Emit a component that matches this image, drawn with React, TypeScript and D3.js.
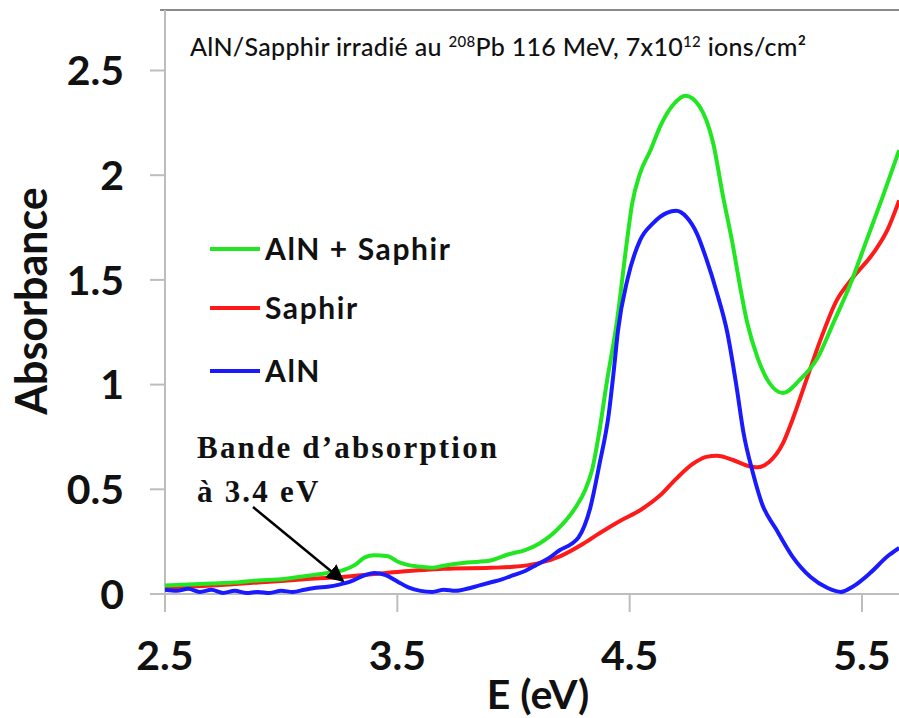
import React from "react";
import * as d3 from "d3";

// ---- data ----
const energyGreen = [2.5, 2.6, 2.7, 2.8, 2.9, 3.0, 3.1, 3.2, 3.27, 3.32, 3.36, 3.4, 3.46, 3.5, 3.54, 3.6, 3.65, 3.7, 3.8, 3.9, 3.98, 4.05, 4.11, 4.2, 4.265, 4.31, 4.34, 4.37, 4.4, 4.445, 4.49, 4.51, 4.545, 4.59, 4.63, 4.69, 4.74, 4.8, 4.86, 4.9, 4.945, 4.975, 5.005, 5.05, 5.1, 5.16, 5.23, 5.31, 5.375, 5.45, 5.52, 5.59, 5.66];
const absGreen = [0.04, 0.045, 0.05, 0.055, 0.065, 0.07, 0.085, 0.1, 0.115, 0.14, 0.175, 0.185, 0.18, 0.155, 0.14, 0.13, 0.125, 0.135, 0.15, 0.16, 0.19, 0.21, 0.24, 0.32, 0.41, 0.5, 0.6, 0.78, 1.0, 1.3, 1.7, 1.86, 2.01, 2.12, 2.23, 2.34, 2.38, 2.33, 2.15, 1.91, 1.66, 1.47, 1.3, 1.13, 1.01, 0.96, 1.02, 1.13, 1.29, 1.48, 1.69, 1.9, 2.12];

const energyRed = [2.5, 2.7, 2.9, 3.1, 3.3, 3.5, 3.7, 3.9, 4.0, 4.1, 4.2, 4.3, 4.37, 4.46, 4.545, 4.63, 4.7, 4.77, 4.83, 4.875, 4.945, 5.0, 5.05, 5.1, 5.16, 5.2, 5.26, 5.32, 5.39, 5.46, 5.55, 5.61, 5.66];
const absRed = [0.03, 0.04, 0.055, 0.07, 0.085, 0.105, 0.12, 0.125, 0.13, 0.145, 0.18, 0.24, 0.29, 0.35, 0.4, 0.47, 0.55, 0.62, 0.655, 0.66, 0.64, 0.615, 0.605, 0.63, 0.72, 0.83, 1.02, 1.21, 1.4, 1.51, 1.63, 1.74, 1.88];

const energyBlue = [2.5, 2.55, 2.6, 2.65, 2.7, 2.75, 2.8, 2.85, 2.9, 2.95, 3.0, 3.05, 3.1, 3.15, 3.2, 3.25, 3.3, 3.35, 3.4, 3.45, 3.5, 3.55, 3.6, 3.65, 3.7, 3.75, 3.8, 3.85, 3.9, 3.95, 4.0, 4.05, 4.1, 4.15, 4.2, 4.25, 4.28, 4.33, 4.37, 4.41, 4.43, 4.45, 4.49, 4.545, 4.6, 4.66, 4.7, 4.745, 4.79, 4.83, 4.875, 4.92, 4.96, 4.99, 5.03, 5.07, 5.13, 5.2, 5.28, 5.35, 5.41, 5.46, 5.535, 5.61, 5.66];
const absBlue = [0.02, 0.015, 0.025, 0.01, 0.02, 0.005, 0.015, 0.005, 0.01, 0.005, 0.015, 0.01, 0.02, 0.03, 0.035, 0.045, 0.06, 0.085, 0.1, 0.09, 0.06, 0.03, 0.015, 0.01, 0.02, 0.015, 0.025, 0.04, 0.055, 0.07, 0.09, 0.11, 0.14, 0.17, 0.21, 0.24, 0.27, 0.41, 0.62, 0.86, 1.05, 1.26, 1.5, 1.69, 1.77, 1.82, 1.83, 1.8, 1.72, 1.6, 1.44, 1.25, 0.99, 0.77, 0.58, 0.43, 0.31, 0.18, 0.08, 0.03, 0.01, 0.035, 0.1, 0.18, 0.22];

const seriesNames = ["AlN + Saphir", "Saphir", "AlN"];
const seriesColors = ["#22e622", "#ff1a1a", "#1a1aff"];
const xTicks = [2.5, 3.5, 4.5, 5.5];
const yTicks = [0, 0.5, 1, 1.5, 2, 2.5];
const yTickLabels = ["0", "0.5", "1", "1.5", "2", "2.5"];
const xTickLabels = ["2.5", "3.5", "4.5", "5.5"];

export default function App() {
  const x = d3.scaleLinear().domain([2.5, 5.5]).range([165, 862]);
  const y = d3.scaleLinear().domain([0, 2.5]).range([594, 70.5]);
  const line = d3
    .line<[number, number]>()
    .x((d) => x(d[0]))
    .y((d) => y(d[1]))
    .curve(d3.curveMonotoneX);

  const series = [
    { e: energyGreen, a: absGreen },
    { e: energyRed, a: absRed },
    { e: energyBlue, a: absBlue },
  ];
  const drawOrder = [1, 0, 2];
  const sans = "Lato, 'Open Sans', sans-serif";
  const serif = "'Liberation Serif', 'Times New Roman', serif";
  const axisColor = "#bdbdbd";

  return (
    <svg
      width={899}
      height={718}
      style={{ position: "absolute", left: 0, top: 0, background: "#fff" }}
      fontFamily={sans}
    >
      <defs>
        <clipPath id="plotClip">
          <rect x={165} y={10} width={740} height={600} />
        </clipPath>
        <marker id="arrowHead" viewBox="0 0 10 10" refX={9} refY={5} markerWidth={7} markerHeight={7} orient="auto" markerUnits="strokeWidth">
          <path d="M0,0 L10,5 L0,10 z" fill="#000" />
        </marker>
      </defs>

      {/* frame */}
      <line x1={160} x2={899} y1={10} y2={10} stroke="#8a8a8a" strokeWidth={2} />
      <line x1={165} x2={165} y1={10} y2={612} stroke={axisColor} strokeWidth={2} />
      <line x1={150} x2={899} y1={y(0)} y2={y(0)} stroke={axisColor} strokeWidth={2} />

      {/* y ticks */}
      {yTicks.map((t, i) => (
        <g key={"yt" + i}>
          <line x1={150} x2={165} y1={y(t)} y2={y(t)} stroke={axisColor} strokeWidth={2} />
          <text x={124} y={y(t)} dy="0.36em" textAnchor="end" fontSize={41} fontWeight={700} fill="#111">
            {yTickLabels[i]}
          </text>
        </g>
      ))}
      {/* x ticks */}
      {xTicks.map((t, i) => (
        <g key={"xt" + i}>
          <line x1={x(t)} x2={x(t)} y1={y(0)} y2={612} stroke={axisColor} strokeWidth={2} />
          <text x={x(t)} y={670} textAnchor="middle" fontSize={41} fontWeight={700} fill="#111">
            {xTickLabels[i]}
          </text>
        </g>
      ))}

      {/* axis titles */}
      <text x={538} y={709} textAnchor="middle" fontSize={41} fontWeight={700} fill="#111">
        E (eV)
      </text>
      <text transform="translate(47,301) rotate(-90)" textAnchor="middle" fontSize={43} fontWeight={700} fill="#111">
        Absorbance
      </text>

      {/* title */}
      <text x={190} y={56} fontSize={25} fontWeight={500} letterSpacing={0.3} fill="#111">
        AlN/Sapphir irradié au <tspan fontSize={15} dy={-9}>208</tspan>
        <tspan dy={9}>Pb 116 MeV, 7x10</tspan>
        <tspan fontSize={15} dy={-9}>12</tspan>
        <tspan dy={9}> ions/cm²</tspan>
      </text>

      {/* curves */}
      <g clipPath="url(#plotClip)">
        {drawOrder.map((k) => {
          const s = series[k];
          const pts: [number, number][] = s.e.map((e, i) => [e, s.a[i]]);
          return (
            <path key={"s" + k} d={line(pts) || ""} fill="none" stroke={seriesColors[k]} strokeWidth={4} strokeLinejoin="round" />
          );
        })}
      </g>

      {/* legend */}
      {seriesNames.map((n, i) => {
        const ly = [249, 308, 371][i];
        return (
          <g key={"lg" + i}>
            <line x1={210} x2={260} y1={ly} y2={ly} stroke={seriesColors[i]} strokeWidth={4} />
            <text x={265} y={ly} dy="0.36em" fontSize={30} fontWeight={700} letterSpacing={1.6} fill="#111">
              {n}
            </text>
          </g>
        );
      })}

      {/* annotation */}
      <text x={197} y={458} fontSize={31} fontWeight={700} letterSpacing={2.2} fontFamily={serif} fill="#111">
        Bande d’absorption
      </text>
      <text x={197} y={502} fontSize={31} fontWeight={700} letterSpacing={2.2} fontFamily={serif} fill="#111">
        à 3.4 eV
      </text>
      <line x1={253} y1={507} x2={343} y2={581} stroke="#000" strokeWidth={2.5} markerEnd="url(#arrowHead)" />
    </svg>
  );
}
